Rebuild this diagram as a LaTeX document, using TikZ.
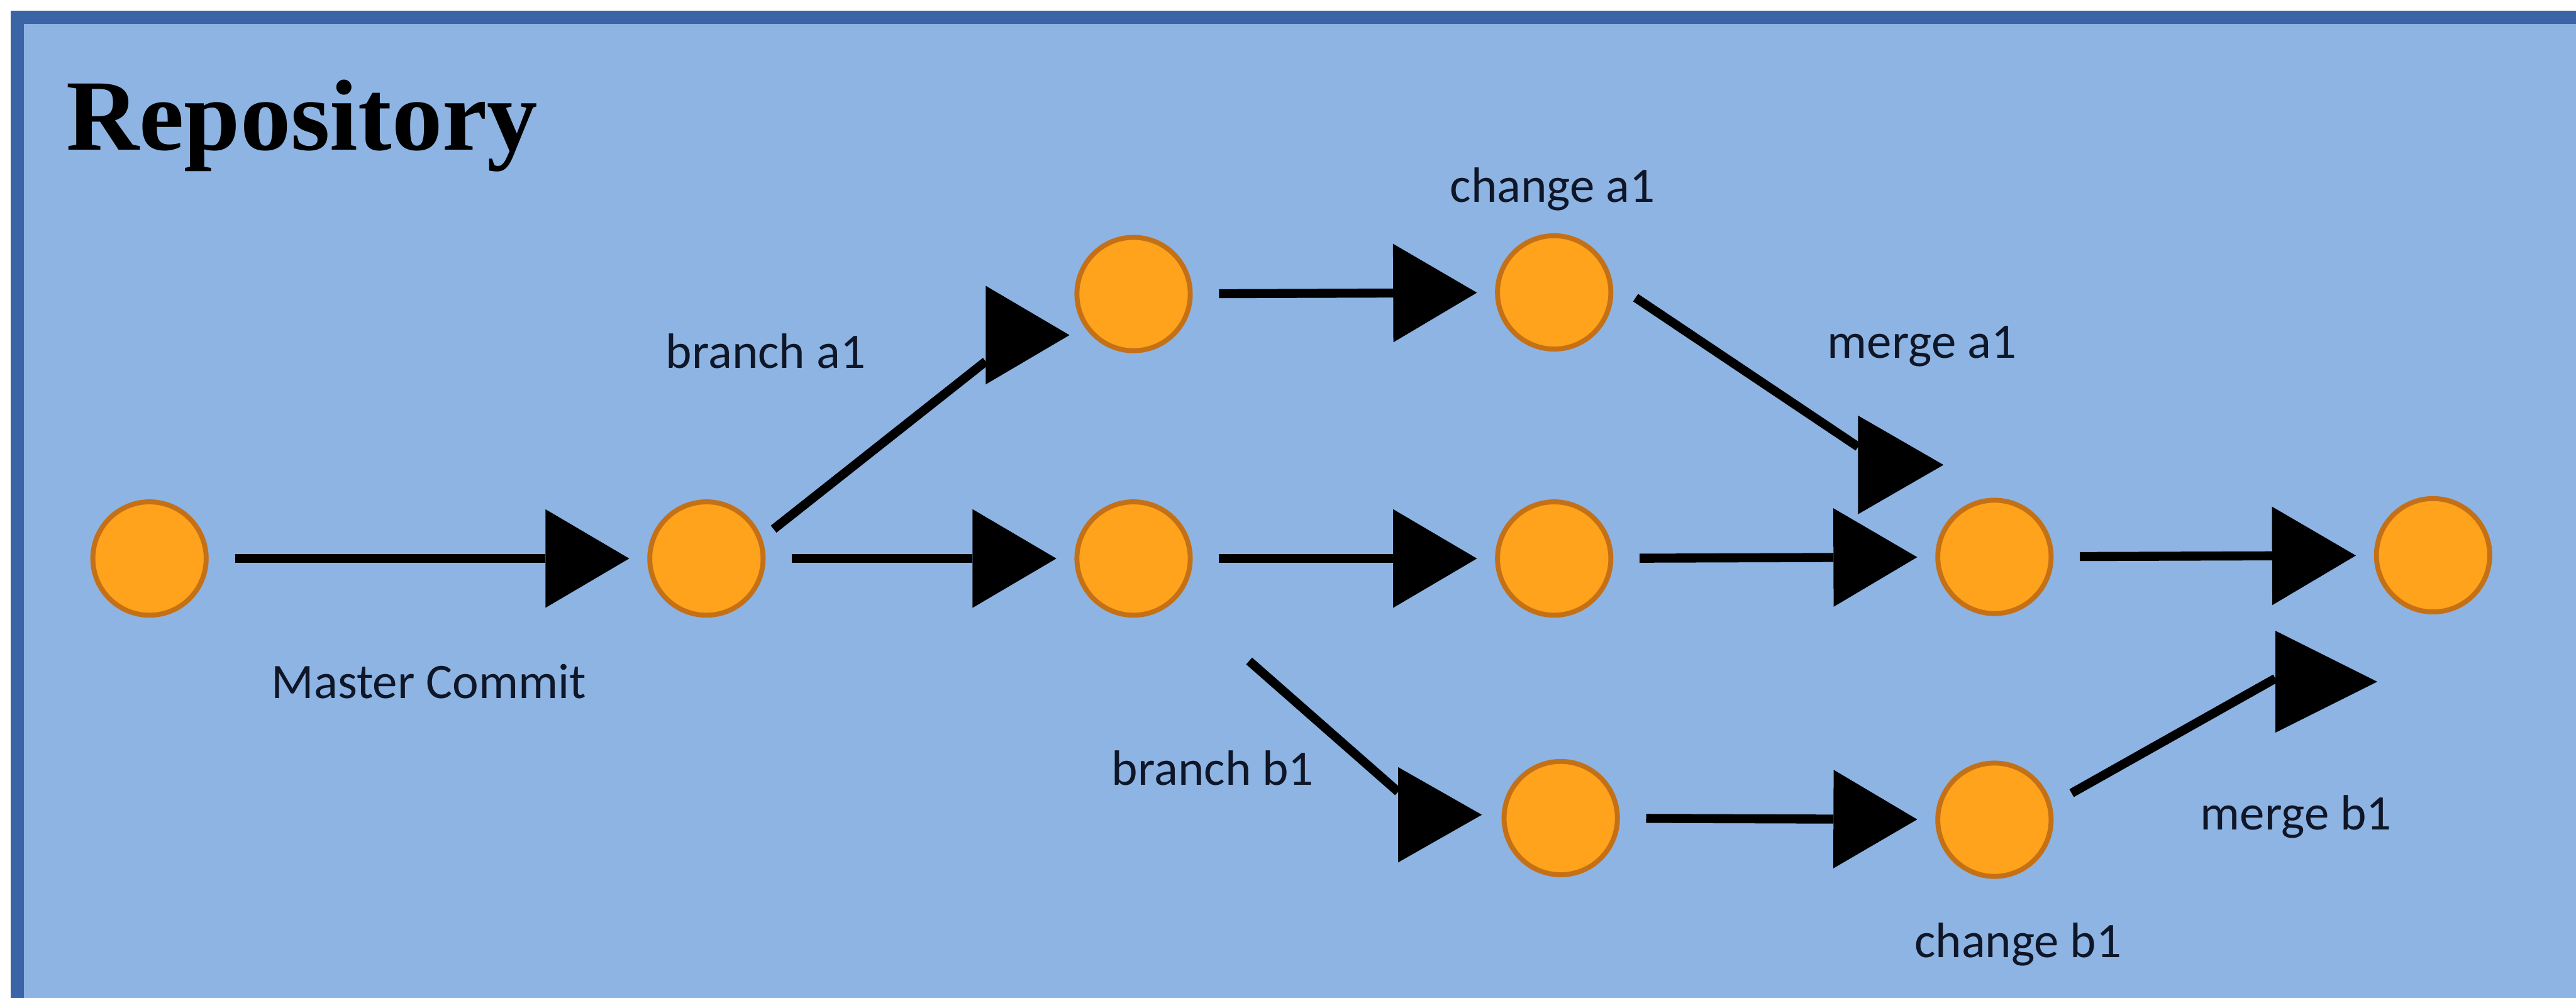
\documentclass[tikz,border=0pt]{standalone}
\usepackage{fontspec}
\setmainfont{Liberation Serif}
\newfontfamily\labelfont{Carlito}
\usepackage{tikz}
\usetikzlibrary{arrows.meta}

\definecolor{repofill}{RGB}{141,180,226}
\definecolor{repoedge}{RGB}{58,100,166}
\definecolor{commitfill}{RGB}{255,162,28}
\definecolor{commitedge}{RGB}{196,112,22}
\definecolor{labeltext}{RGB}{15,22,40}

\begin{document}
\begin{tikzpicture}[x=0.2mm, y=-0.2mm,
  commit/.style={circle, draw=commitedge, line width=0.6mm, fill=commitfill,
    minimum size=13.8mm, inner sep=0pt},
  link/.style={line width=1.1mm,
    -{Triangle[length=10.2mm, width=12mm, line width=0pt]},
    shorten <=3.2mm, shorten >=2.2mm},
  stem/.style={line width=1.1mm},
  lbl/.style={font=\labelfont\fontsize{17.2}{20}\selectfont, text=labeltext, inner sep=0pt}]

  \useasboundingbox (0,0) rectangle (1568,607.2);
  \fill[white] (0,0) rectangle (1568,607.2);
  \draw[repoedge, line width=1.6mm, fill=repofill] (10.5,10.5) rectangle (1600,640);

  \node[anchor=base west, inner sep=0pt, font=\fontsize{35}{40}\selectfont\bfseries] (title) at (40,91.4) {Repository};

  \node[commit] (m0) at (91,340) {};
  \node[commit] (m1) at (430,340) {};
  \node[commit] (m2) at (690,340) {};
  \node[commit] (m3) at (946,340) {};
  \node[commit] (m4) at (1214,339) {};
  \node[commit] (m5) at (1481,338) {};
  \node[commit] (a1) at (690,179) {};
  \node[commit] (a2) at (946,178) {};
  \node[commit] (b1) at (950,498) {};
  \node[commit] (b2) at (1214,499) {};

  \draw[link] (m0) -- (m1);
  \draw[link] (m1) -- (m2);
  \draw[link] (m2) -- (m3);
  \draw[link] (m3) -- (m4);
  \draw[link] (m4) -- (m5);
  \draw[link] (a1) -- (a2);
  \draw[link] (b1) -- (b2);

  \coordinate (ea1) at (600,220);
  \coordinate (ta1) at (651,204);
  \coordinate (ea2) at (1131,272);
  \coordinate (ta2) at (1183,283);
  \coordinate (eb1) at (851,482);
  \coordinate (tb1) at (902,496);
  \coordinate (eb2) at (1385,413);
  \coordinate (tb2) at (1447,415);

  \draw[stem, shorten <=1.8mm] (m1.20) -- (ea1);
  \fill (ta1) -- ++(-51,-30) -- ++(0,60) -- cycle;
  \draw[stem, shorten <=3.4mm] (a2.10) -- (ea2);
  \fill (ta2) -- ++(-52,-30) -- ++(0,60) -- cycle;
  \draw[stem, shorten <=11.6mm] (m2.-42) -- (eb1);
  \fill (tb1) -- ++(-51,-29) -- ++(0,58) -- cycle;
  \draw[stem, shorten <=2.8mm] (b2.15) -- (eb2);
  \fill (tb2) -- ++(-62,-31) -- ++(0,62) -- cycle;

  \node[lbl, anchor=base west] (lmaster) at (165,425) {Master Commit};
  \node[lbl, anchor=base west] (lbrancha) at (405,224) {branch a1};
  \node[lbl, anchor=base] (lchangea) at (945,123) {change a1};
  \node[lbl, anchor=base west] (lmergea) at (1112,218) {merge a1};
  \node[lbl, anchor=base east] (lbranchb) at (800,478) {branch b1};
  \node[lbl, anchor=base west] (lmergeb) at (1339,505) {merge b1};
  \node[lbl, anchor=base west] (lchangeb) at (1165,583) {change b1};
\end{tikzpicture}
\end{document}
